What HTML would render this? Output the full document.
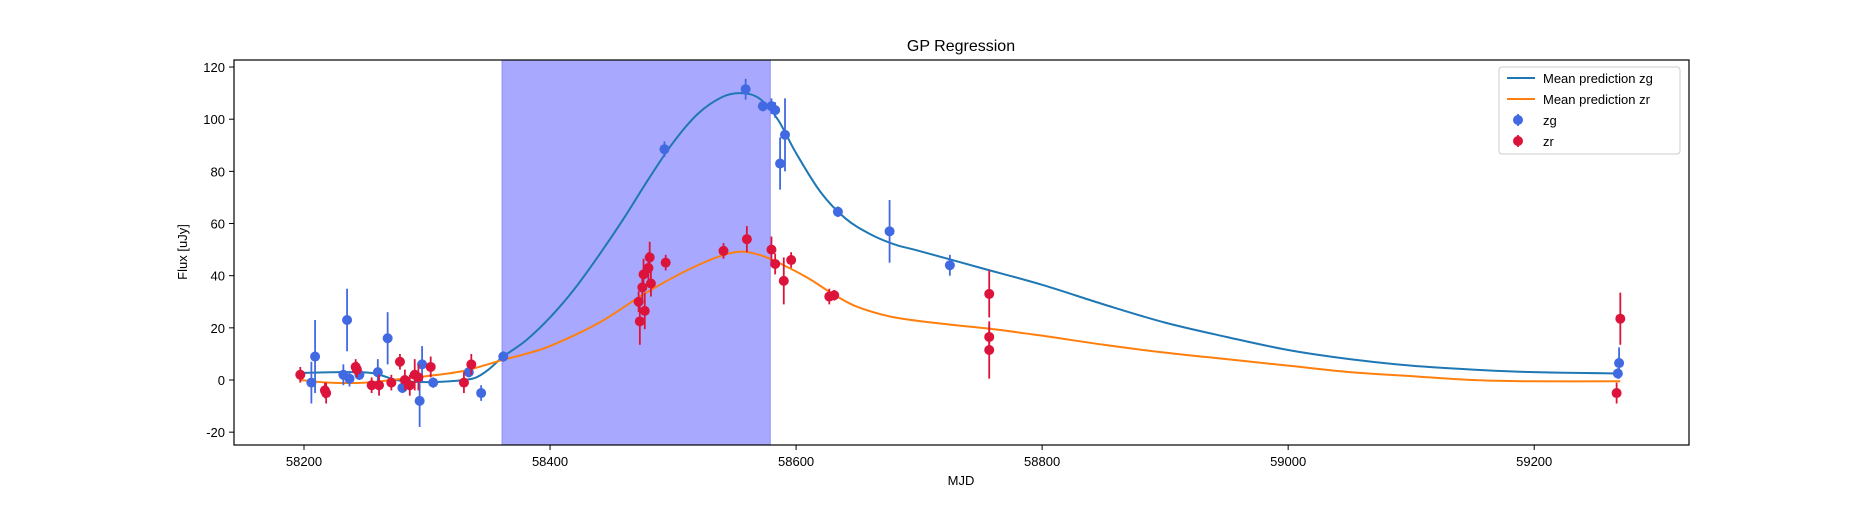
<!DOCTYPE html>
<html><head><meta charset="utf-8"><style>
body{margin:0;background:#fff;}
svg text{font-family:"Liberation Sans","DejaVu Sans",sans-serif;fill:#000;}
</style></head><body>
<svg id="chart" width="1875" height="500" viewBox="0 0 1875 500" xmlns="http://www.w3.org/2000/svg">
<rect width="1875" height="500" fill="#fff"/>
<g id="plot"></g>
</svg>
<script>
const zgMjd=[58206,58209,58232,58235,58237,58245,58260,58268,58280,58294,58296,58305,58334,58344,58362,58493,58559,58573,58580,58583,58587,58591,58634,58676,58725,59268,59269];
const zgFlux=[-1,9,2,23,0.5,2,3,16,-3,-8,6,-1,3,-5,9,88.5,111.5,105,105,103.5,83,94,64.5,57,44,2.5,6.5];
const zgErr=[8,14,4,12,3,2,5,10,2,10,7,2,2,3,2,3,4,2,3,3,10,14,2,12,4,2,6];
const zrMjd=[58197,58217,58218,58242,58243,58255,58261,58271,58278,58282,58286,58290,58293,58303,58330,58336,58472,58473,58475,58476,58477,58480,58481,58482,58494,58541,58560,58580,58583,58590,58596,58627,58631,58757,58757,58757,59267,59270];
const zrFlux=[2,-4,-5,5,4,-2,-2,-1,7,0,-2,2,1,5,-1,6,30,22.5,35.5,40.5,26.5,43,47,37,45,49.5,54,50,44.5,38,46,32,32.5,33,16.5,11.5,-5,23.5];
const zrErr=[3,3,4,3,3,3,4,3,3,4,4,6,5,4,4,4,4,9,5,6,7,6,6,5,3,3,5,5,4,9,3,3,2,9,5,11,4,10];
const zgCurveX=[58197,58230,58255,58275,58290,58310,58330,58340,58350,58362,58380,58400,58420,58440,58460,58480,58500,58520,58540,58555,58570,58585,58600,58620,58640,58660,58680,58700,58750,58800,58850,58900,58950,59000,59050,59100,59150,59200,59270];
const zgCurveY=[2.7,3,2.7,0,-0.7,-0.7,0,1,4,9,15,24,35,48,62,77,91,102,108.5,110,108,100,87,72,62,56,52,49.5,43,36.5,29,22,16.5,11.5,8,5.5,4,3,2.5];
const zrCurveX=[58197,58220,58250,58280,58300,58330,58360,58380,58400,58440,58480,58520,58550,58570,58590,58610,58630,58650,58680,58720,58760,58800,58850,58900,58950,59000,59050,59100,59150,59200,59270];
const zrCurveY=[0,-1,-1,0.5,1.5,3.5,7.5,10,13,22,34,44,49,48,44,39,33,28,24,21.5,19.5,17,13.5,10.5,8,5.5,3,1.5,0,-0.5,-0.5];
const xTicks=[58200,58400,58600,58800,59000,59200];
const yTicks=[-20,0,20,40,60,80,100,120];
const spanStart=58361, spanEnd=58579;

const L=234,R=1689,T=60,B=445;
const X=m=>304+(m-58200)*1.2302;
const Y=v=>380-v*2.608;
const NS="http://www.w3.org/2000/svg";
const g=document.getElementById('plot');
function mk(tag,attrs,parent){const e=document.createElementNS(NS,tag);for(const k in attrs)e.setAttribute(k,attrs[k]);(parent||g).appendChild(e);return e;}

const span=mk('rect',{x:X(spanStart),y:T,width:X(spanEnd)-X(spanStart),height:B-T,fill:'#a8a8ff',stroke:'#8f8ff5','stroke-width':1});



function smooth(xs,ys){let p=xs.map((x,i)=>[X(x),Y(ys[i])]);let d='M'+p[0][0]+','+p[0][1];
for(let i=0;i<p.length-1;i++){const p0=p[i-1]||p[i],p1=p[i],p2=p[i+1],p3=p[i+2]||p2;
d+=` C${p1[0]+(p2[0]-p0[0])/6},${p1[1]+(p2[1]-p0[1])/6} ${p2[0]-(p3[0]-p1[0])/6},${p2[1]-(p3[1]-p1[1])/6} ${p2[0]},${p2[1]}`;}return d;}
const c1=mk('path',{d:smooth(zgCurveX,zgCurveY),fill:'none',stroke:'#1f77b4','stroke-width':2});


const c2=mk('path',{d:smooth(zrCurveX,zrCurveY),fill:'none',stroke:'#ff7f0e','stroke-width':2});



function pts(xs,ys,es,col,name){xs.forEach((m,i)=>{const gg=mk('g',{});


mk('line',{x1:X(m),x2:X(m),y1:Y(ys[i]-es[i]),y2:Y(ys[i]+es[i]),stroke:col,'stroke-width':1.8},gg);
mk('circle',{cx:X(m),cy:Y(ys[i]),r:5,fill:col},gg);});}
pts(zgMjd,zgFlux,zgErr,'#4169e1','zg');
pts(zrMjd,zrFlux,zrErr,'#dc143c','zr');

const frame=mk('rect',{x:L,y:T,width:R-L,height:B-T,fill:'none',stroke:'#000','stroke-width':1.2});


xTicks.forEach(t=>{mk('line',{x1:X(t),x2:X(t),y1:B,y2:B+5,stroke:'#000'});
const tx=mk('text',{x:X(t),y:B+21,'text-anchor':'middle','font-size':13});tx.textContent=t;

});
yTicks.forEach(t=>{mk('line',{x1:L-5,x2:L,y1:Y(t),y2:Y(t),stroke:'#000'});
const tx=mk('text',{x:L-9,y:Y(t)+5,'text-anchor':'end','font-size':13});tx.textContent=t;

});
</script>
<svg style="position:absolute;left:0;top:0" width="1875" height="500">
<text x="961" y="51" text-anchor="middle" font-size="16">GP Regression</text>
<text x="961" y="485" text-anchor="middle" font-size="13">MJD</text>
<text transform="translate(187,252) rotate(-90)" text-anchor="middle" font-size="13">Flux [uJy]</text>
<g>
<rect x="1499" y="67" width="181" height="87" rx="3" fill="#fff" fill-opacity="0.85" stroke="#ccc"/>
<line x1="1507" x2="1535" y1="78" y2="78" stroke="#1f77b4" stroke-width="2"/>
<text x="1543" y="83" font-size="13">Mean prediction zg</text>
<line x1="1507" x2="1535" y1="99" y2="99" stroke="#ff7f0e" stroke-width="2"/>
<text x="1543" y="104" font-size="13">Mean prediction zr</text>
<line x1="1518" x2="1518" y1="114" y2="126" stroke="#4169e1" stroke-width="1.8"/><circle cx="1518" cy="120" r="5" fill="#4169e1"/>
<text x="1543" y="125" font-size="13">zg</text>
<line x1="1518" x2="1518" y1="135" y2="147" stroke="#dc143c" stroke-width="1.8"/><circle cx="1518" cy="141" r="5" fill="#dc143c"/>
<text x="1543" y="146" font-size="13">zr</text>
</g>
</svg>
</body></html>
